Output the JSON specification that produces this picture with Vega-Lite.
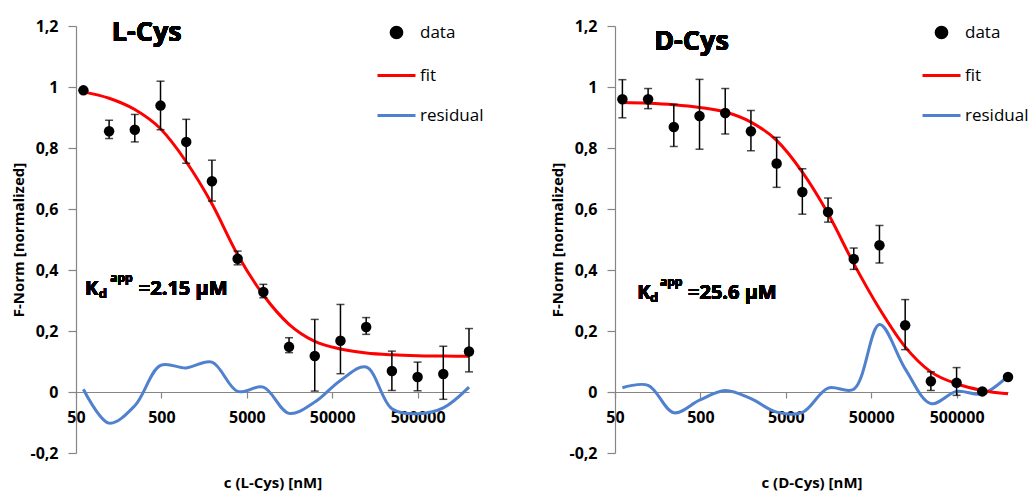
{
  "$schema": "https://vega.github.io/schema/vega-lite/v6.json",
  "background": "white",
  "padding": {"left": 11, "top": 12, "right": 2, "bottom": 2},
  "spacing": 66,
  "datasets": {
    "L": [
      {"c": 61.035, "y": 0.989, "lo": 0.985, "hi": 0.993, "fit": 0.984, "res": 0.009},
      {"c": 122.07, "y": 0.855, "lo": 0.831, "hi": 0.891, "fit": 0.963, "res": -0.102},
      {"c": 244.14, "y": 0.860, "lo": 0.820, "hi": 0.910, "fit": 0.926, "res": -0.045},
      {"c": 488.28, "y": 0.939, "lo": 0.860, "hi": 1.019, "fit": 0.863, "res": 0.087},
      {"c": 976.56, "y": 0.820, "lo": 0.750, "hi": 0.894, "fit": 0.755, "res": 0.079},
      {"c": 1953.1, "y": 0.691, "lo": 0.626, "hi": 0.760, "fit": 0.617, "res": 0.098},
      {"c": 3906.3, "y": 0.437, "lo": 0.417, "hi": 0.462, "fit": 0.450, "res": 0.002},
      {"c": 7812.5, "y": 0.328, "lo": 0.309, "hi": 0.353, "fit": 0.318, "res": 0.016},
      {"c": 15625, "y": 0.148, "lo": 0.129, "hi": 0.178, "fit": 0.222, "res": -0.070},
      {"c": 31250, "y": 0.118, "lo": 0.003, "hi": 0.238, "fit": 0.166, "res": -0.033},
      {"c": 62500, "y": 0.168, "lo": 0.060, "hi": 0.287, "fit": 0.141, "res": 0.038},
      {"c": 125000, "y": 0.213, "lo": 0.189, "hi": 0.244, "fit": 0.128, "res": 0.082},
      {"c": 250000, "y": 0.069, "lo": 0.005, "hi": 0.134, "fit": 0.122, "res": -0.055},
      {"c": 500000, "y": 0.049, "lo": 0.004, "hi": 0.098, "fit": 0.119, "res": -0.071},
      {"c": 1000000, "y": 0.059, "lo": -0.024, "hi": 0.150, "fit": 0.118, "res": -0.052},
      {"c": 2000000, "y": 0.133, "lo": 0.066, "hi": 0.208, "fit": 0.117, "res": 0.016}
    ],
    "D": [
      {"c": 61.035, "y": 0.960, "lo": 0.899, "hi": 1.024, "fit": 0.949, "res": 0.014},
      {"c": 122.07, "y": 0.960, "lo": 0.929, "hi": 0.995, "fit": 0.947, "res": 0.022},
      {"c": 244.14, "y": 0.869, "lo": 0.805, "hi": 0.943, "fit": 0.942, "res": -0.068},
      {"c": 488.28, "y": 0.905, "lo": 0.796, "hi": 1.025, "fit": 0.933, "res": -0.027},
      {"c": 976.56, "y": 0.915, "lo": 0.846, "hi": 0.995, "fit": 0.918, "res": 0.005},
      {"c": 1953.1, "y": 0.855, "lo": 0.791, "hi": 0.923, "fit": 0.885, "res": -0.022},
      {"c": 3906.3, "y": 0.749, "lo": 0.671, "hi": 0.835, "fit": 0.825, "res": -0.066},
      {"c": 7812.5, "y": 0.656, "lo": 0.583, "hi": 0.732, "fit": 0.721, "res": -0.067},
      {"c": 15625, "y": 0.590, "lo": 0.557, "hi": 0.636, "fit": 0.585, "res": 0.013},
      {"c": 31250, "y": 0.436, "lo": 0.402, "hi": 0.472, "fit": 0.421, "res": 0.009},
      {"c": 62500, "y": 0.481, "lo": 0.423, "hi": 0.546, "fit": 0.273, "res": 0.221},
      {"c": 125000, "y": 0.219, "lo": 0.139, "hi": 0.303, "fit": 0.148, "res": 0.076},
      {"c": 250000, "y": 0.035, "lo": 0.005, "hi": 0.066, "fit": 0.066, "res": -0.038},
      {"c": 500000, "y": 0.030, "lo": -0.011, "hi": 0.080, "fit": 0.027, "res": 0.002},
      {"c": 1000000, "y": 0.002, "lo": -0.002, "hi": 0.006, "fit": 0.005, "res": -0.006},
      {"c": 2000000, "y": 0.049, "lo": 0.045, "hi": 0.053, "fit": -0.006, "res": 0.052}
    ]
  },
  "resolve": {"scale": {"color": "independent"}, "legend": {"color": "independent"}},
  "hconcat": [
    {
      "width": 393,
      "height": 427,
      "data": {"name": "L"},
      "encoding": {
        "x": {
          "field": "c", "type": "quantitative",
          "scale": {"type": "log", "domain": [50, 2000000], "nice": false},
          "axis": {"values": [50, 500, 5000, 50000, 500000], "format": "d", "offset": -61, "tickSize": 6, "labelFontSize": 16, "labelPadding": 11, "labelFlush": false, "labelOverlap": false, "title": "c (L-Cys) [nM]", "titleFontSize": 15, "titlePadding": 50}
        }
      },
      "layer": [
        {
          "mark": {"type": "line", "interpolate": "catmull-rom", "strokeWidth": 3},
          "encoding": {
            "y": {"field": "res", "type": "quantitative", "title": "F-Norm [normalized]", "scale": {"domain": [-0.2, 1.2], "nice": false},
              "axis": {"values": [-0.2, 0, 0.2, 0.4, 0.6, 0.8, 1, 1.2], "labelExpr": "datum.value === 0 ? '0' : (datum.value === 1 ? '1' : replace(replace(format(datum.value, '.1f'), '.', ','), '\u2212', '-'))", "tickSize": 8, "labelFontSize": 16, "labelPadding": 10, "title": "F-Norm [normalized]", "titleFontSize": 15, "titlePadding": 3}},
            "color": {"datum": "residual", "type": "nominal",
              "scale": {"domain": ["data", "fit", "residual"], "range": ["black", "#FF0000", "#4F81CF"]},
              "legend": {"orient": "none", "legendX": 300, "legendY": -14, "title": null, "padding": 0, "symbolSize": 1444, "symbolType": "stroke", "symbolStrokeWidth": 3, "labelFontSize": 17, "labelFont": "Open Sans", "labelColor": "black", "labelOffset": 3, "rowPadding": 11,
                "encode": {"symbols": {"update": {
                  "shape": {"signal": "datum.value === 'data' ? 'circle' : 'stroke'"},
                  "size": {"signal": "datum.value === 'data' ? 115 : 1444"},
                  "fill": {"signal": "datum.value === 'data' ? 'black' : 'transparent'"},
                  "stroke": {"signal": "datum.value === 'data' ? 'transparent' : (datum.value === 'fit' ? '#FF0000' : '#4F81CF')"},
                  "strokeWidth": {"value": 3},
                  "opacity": {"value": 1}
                }}}}
            }
          }
        },
        {
          "mark": {"type": "line", "interpolate": "monotone", "strokeWidth": 3},
          "encoding": {
            "y": {"field": "fit", "type": "quantitative", "title": "F-Norm [normalized]"},
            "color": {"datum": "fit", "type": "nominal"}
          }
        },
        {
          "mark": {"type": "errorbar", "ticks": {"size": 8}, "color": "black", "thickness": 1.5},
          "encoding": {
            "y": {"field": "lo", "type": "quantitative", "title": "F-Norm [normalized]"},
            "y2": {"field": "hi"}
          }
        },
        {
          "mark": {"type": "point", "filled": true, "size": 110, "opacity": 1},
          "encoding": {
            "y": {"field": "y", "type": "quantitative", "title": "F-Norm [normalized]"},
            "color": {"datum": "data", "type": "nominal"}
          }
        },
        {
          "mark": {"type": "text", "text": "L-Cys", "fontSize": 27, "fontWeight": "bold", "align": "center", "baseline": "alphabetic", "font": "Open Sans", "color": "black"},
          "encoding": {"x": {"datum": 337, "type": "quantitative"}, "y": {"datum": 1.15, "type": "quantitative"}}
        },
        {
          "mark": {"type": "text", "text": "K", "fontSize": 20, "fontWeight": "bold", "align": "left", "baseline": "alphabetic", "font": "Open Sans", "color": "black"},
          "encoding": {"x": {"datum": 63.7, "type": "quantitative"}, "y": {"datum": 0.318, "type": "quantitative"}}
        },
        {
          "mark": {"type": "text", "text": "d", "fontSize": 13, "fontWeight": "bold", "align": "left", "baseline": "alphabetic", "font": "Open Sans", "color": "black"},
          "encoding": {"x": {"datum": 92.2, "type": "quantitative"}, "y": {"datum": 0.308, "type": "quantitative"}}
        },
        {
          "mark": {"type": "text", "text": "app", "fontSize": 12, "fontWeight": "bold", "align": "left", "baseline": "alphabetic", "font": "Open Sans", "color": "black"},
          "encoding": {"x": {"datum": 126, "type": "quantitative"}, "y": {"datum": 0.361, "type": "quantitative"}}
        },
        {
          "mark": {"type": "text", "text": "=2.15 µM", "fontSize": 20, "fontWeight": "bold", "align": "left", "baseline": "alphabetic", "font": "Open Sans", "color": "black"},
          "encoding": {"x": {"datum": 272, "type": "quantitative"}, "y": {"datum": 0.318, "type": "quantitative"}}
        }
      ]
    },
    {
      "width": 393,
      "height": 427,
      "data": {"name": "D"},
      "encoding": {
        "x": {
          "field": "c", "type": "quantitative",
          "scale": {"type": "log", "domain": [50, 2000000], "nice": false},
          "axis": {"values": [50, 500, 5000, 50000, 500000], "format": "d", "offset": -61, "tickSize": 6, "labelFontSize": 16, "labelPadding": 11, "labelFlush": false, "labelOverlap": false, "title": "c (D-Cys) [nM]", "titleFontSize": 15, "titlePadding": 50}
        }
      },
      "layer": [
        {
          "mark": {"type": "line", "interpolate": "catmull-rom", "strokeWidth": 3},
          "encoding": {
            "y": {"field": "res", "type": "quantitative", "title": "F-Norm [normalized]", "scale": {"domain": [-0.2, 1.2], "nice": false},
              "axis": {"values": [-0.2, 0, 0.2, 0.4, 0.6, 0.8, 1, 1.2], "labelExpr": "datum.value === 0 ? '0' : (datum.value === 1 ? '1' : replace(replace(format(datum.value, '.1f'), '.', ','), '\u2212', '-'))", "tickSize": 8, "labelFontSize": 16, "labelPadding": 10, "title": "F-Norm [normalized]", "titleFontSize": 15, "titlePadding": 3}},
            "color": {"datum": "residual", "type": "nominal",
              "scale": {"domain": ["data", "fit", "residual"], "range": ["black", "#FF0000", "#4F81CF"]},
              "legend": {"orient": "none", "legendX": 306, "legendY": -14, "title": null, "padding": 0, "symbolSize": 1444, "symbolType": "stroke", "symbolStrokeWidth": 3, "labelFontSize": 17, "labelFont": "Open Sans", "labelColor": "black", "labelOffset": 3, "rowPadding": 11,
                "encode": {"symbols": {"update": {
                  "shape": {"signal": "datum.value === 'data' ? 'circle' : 'stroke'"},
                  "size": {"signal": "datum.value === 'data' ? 115 : 1444"},
                  "fill": {"signal": "datum.value === 'data' ? 'black' : 'transparent'"},
                  "stroke": {"signal": "datum.value === 'data' ? 'transparent' : (datum.value === 'fit' ? '#FF0000' : '#4F81CF')"},
                  "strokeWidth": {"value": 3},
                  "opacity": {"value": 1}
                }}}}
            }
          }
        },
        {
          "mark": {"type": "line", "interpolate": "monotone", "strokeWidth": 3},
          "encoding": {
            "y": {"field": "fit", "type": "quantitative", "title": "F-Norm [normalized]"},
            "color": {"datum": "fit", "type": "nominal"}
          }
        },
        {
          "mark": {"type": "errorbar", "ticks": {"size": 8}, "color": "black", "thickness": 1.5},
          "encoding": {
            "y": {"field": "lo", "type": "quantitative", "title": "F-Norm [normalized]"},
            "y2": {"field": "hi"}
          }
        },
        {
          "mark": {"type": "point", "filled": true, "size": 110, "opacity": 1},
          "encoding": {
            "y": {"field": "y", "type": "quantitative", "title": "F-Norm [normalized]"},
            "color": {"datum": "data", "type": "nominal"}
          }
        },
        {
          "mark": {"type": "text", "text": "D-Cys", "fontSize": 27, "fontWeight": "bold", "align": "center", "baseline": "alphabetic", "font": "Open Sans", "color": "black"},
          "encoding": {"x": {"datum": 393, "type": "quantitative"}, "y": {"datum": 1.12, "type": "quantitative"}}
        },
        {
          "mark": {"type": "text", "text": "K", "fontSize": 20, "fontWeight": "bold", "align": "left", "baseline": "alphabetic", "font": "Open Sans", "color": "black"},
          "encoding": {"x": {"datum": 91.2, "type": "quantitative"}, "y": {"datum": 0.305, "type": "quantitative"}}
        },
        {
          "mark": {"type": "text", "text": "d", "fontSize": 13, "fontWeight": "bold", "align": "left", "baseline": "alphabetic", "font": "Open Sans", "color": "black"},
          "encoding": {"x": {"datum": 128.5, "type": "quantitative"}, "y": {"datum": 0.295, "type": "quantitative"}}
        },
        {
          "mark": {"type": "text", "text": "app", "fontSize": 12, "fontWeight": "bold", "align": "left", "baseline": "alphabetic", "font": "Open Sans", "color": "black"},
          "encoding": {"x": {"datum": 168, "type": "quantitative"}, "y": {"datum": 0.348, "type": "quantitative"}}
        },
        {
          "mark": {"type": "text", "text": "=25.6 µM", "fontSize": 20, "fontWeight": "bold", "align": "left", "baseline": "alphabetic", "font": "Open Sans", "color": "black"},
          "encoding": {"x": {"datum": 358, "type": "quantitative"}, "y": {"datum": 0.305, "type": "quantitative"}}
        }
      ]
    }
  ],
  "config": {
    "font": "Open Sans",
    "view": {"stroke": null},
    "axis": {"grid": false, "domainColor": "#868686", "tickColor": "#868686", "domainWidth": 1.2, "tickWidth": 1.2, "labelFont": "Open Sans", "labelFontWeight": "bold", "labelColor": "black", "titleFont": "Open Sans", "titleFontWeight": "bold", "titleColor": "black"}
  }
}
